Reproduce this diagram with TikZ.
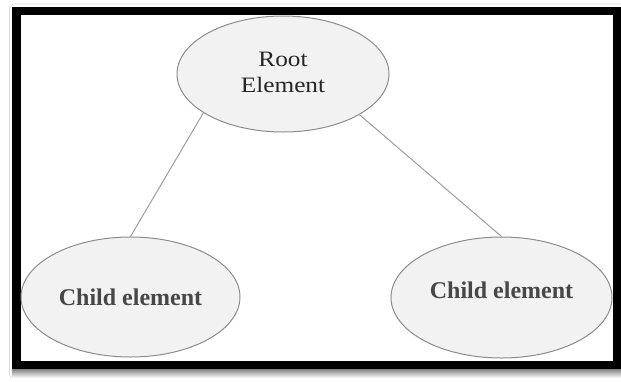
\documentclass[tikz,border=0pt]{standalone}
\usepackage{fontspec}
\setmainfont{Liberation Serif}
\usetikzlibrary{shapes.geometric}
\begin{document}
\begin{tikzpicture}[x=1pt,y=-1pt,
  elem/.style={ellipse, draw=black!45, line width=1pt, fill=black!5, inner sep=0pt, text=black!85},
  link/.style={draw=black!38, line width=1pt},
  childtxt/.style={font=\fontsize{24}{28}\selectfont\bfseries, text=black!72},
  roottxt/.style={font=\fontsize{22}{26}\selectfont}]
\useasboundingbox (0,0) rectangle (621,381);
\fill[white] (0,0) rectangle (621,381);
\draw[black!15, line width=0.6pt, rounded corners=4pt] (9.5,4) rectangle (640,378.5);
\shade[top color=black!55, bottom color=white] (12,368) rectangle (621,378);
\draw[black, line width=8.5pt] (16.5,11) rectangle (617,365);
\node[elem, roottxt, minimum width=212pt, minimum height=116pt] (root) at (283,74)
  {\scalebox{1.15}[1]{\begin{tabular}{@{}c@{}}Root\\Element\end{tabular}}};
\node[elem, childtxt, minimum width=219pt, minimum height=120pt] (c1) at (130.5,297) {Child element};
\node[elem, childtxt, minimum width=221pt, minimum height=121pt, text depth=14pt] (c2) at (501.5,297.5) {Child element};
\draw[link] (root.206.3) -- (c1.north);
\draw[link] (root.332.6) -- (c2.north);
\end{tikzpicture}
\end{document}
